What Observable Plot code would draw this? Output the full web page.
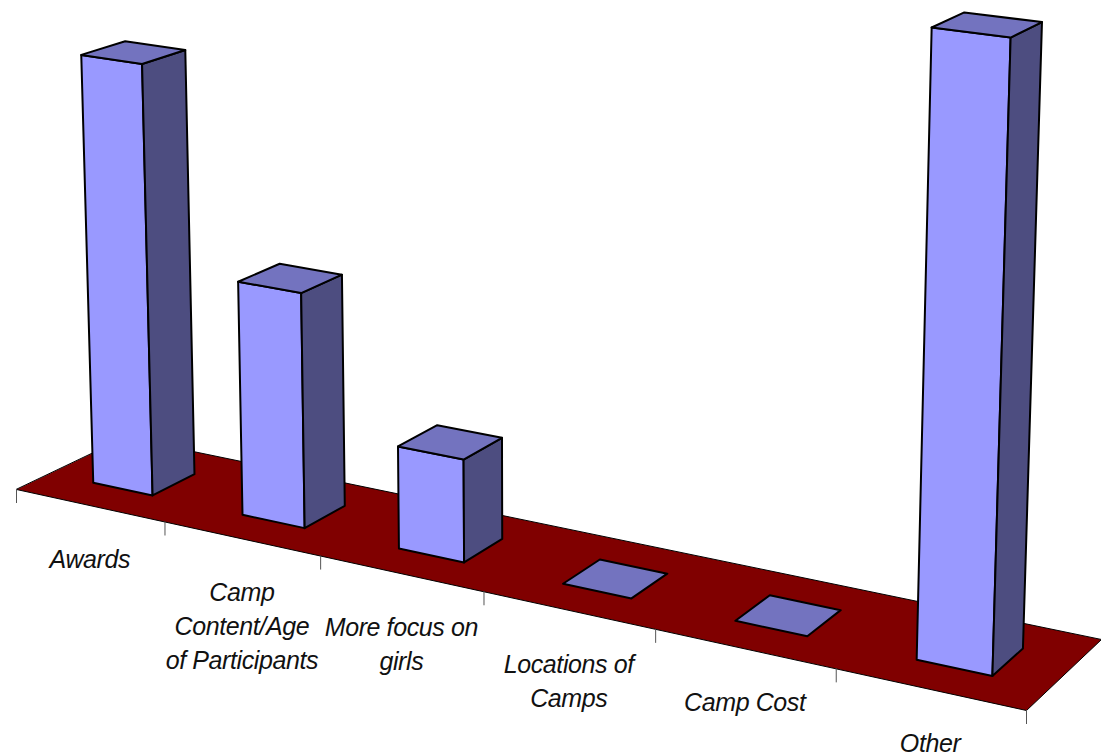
<!DOCTYPE html>
<html><head><meta charset="utf-8">
<style>html,body{margin:0;padding:0;background:#fff;overflow:hidden}svg{display:block}svg text{letter-spacing:-0.4px}</style>
<script src="https://cdn.jsdelivr.net/npm/d3@7"></script>
<script src="https://cdn.jsdelivr.net/npm/@observablehq/plot@0.6"></script>
</head><body><div id="chart"></div>
<script>
const categories = ["Awards","Camp\nContent/Age\nof Participants","More focus on\ngirls","Locations of\nCamps","Camp Cost","Other"];
const values = [17.6, 9.5, 4.1, 0, 0, 23];

// Projection of the chart's floor (category position, depth) and height onto the picture.
const W = 1101, H = 755;
const floorQuad = [[16,489],[1026,710],[1101,639],[125,437]];
const vertical = [541,16478];
const barU = [0.297,0.70], barD = [0.30,0.695];
const calib = {v:23, y:27};

const [[x0,y0],[x1,y1],[x2,y2],[x3,y3]] = floorQuad;
const dx1=x1-x2,dx2=x3-x2,sx=x0-x1+x2-x3,dy1=y1-y2,dy2=y3-y2,sy=y0-y1+y2-y3;
const den=dx1*dy2-dx2*dy1;
const g=(sx*dy2-dx2*sy)/den,h=(dx1*sy-sx*dy1)/den;
const a=x1-x0+g*x1,b=x3-x0+h*x3,c=x0,d=y1-y0+g*y1,e=y3-y0+h*y3,f=y0;
const n = categories.length;
const homog=(u,dep)=>{const s=u/n;return [a*s+b*dep+c,d*s+e*dep+f,g*s+h*dep+1];};
// height unit, calibrated on the tallest bar
const [cx,cy,cw]=homog(n-1+barU[0],barD[0]);
const k=(cy-calib.y*cw)/(calib.v*(calib.y-vertical[1]));
const proj=(u,dep,v=0)=>{const [X,Y,w]=homog(u,dep);const t=v*k;return [(X+t*vertical[0])/(w+t),(Y+t*vertical[1])/(w+t)];};

const poly=(key,pts)=>pts.map(p=>{const [x,y]=proj(...p);return {key,x,y};});
const faces={front:[],side:[],top:[]};
values.forEach((v,i)=>{
  const [ua,ub]=[i+barU[0],i+barU[1]],[da,db]=barD;
  faces.top.push(...poly(i,[[ua,da,v],[ub,da,v],[ub,db,v],[ua,db,v]]));
  if(v>0){
    faces.front.push(...poly(i,[[ua,da,0],[ub,da,0],[ub,da,v],[ua,da,v]]));
    faces.side.push(...poly(i,[[ub,da,0],[ub,db,0],[ub,db,v],[ub,da,v]]));
  }
});
const floor=poly("floor",[[0,0],[n,0],[n,1],[0,1]]);
const ticks=d3.range(n+1).map(i=>{const [x,y]=proj(i,0);return {x,y};});
const labels=categories.map((t,i)=>{const [x,y]=proj(i+.5,0);return {t,x,y};});

const faceMark=(data,fill)=>Plot.line(data,{x:"x",y:"y",z:"key",curve:"linear-closed",fill,stroke:"#000",strokeWidth:2,strokeLinejoin:"round"});
const chart=Plot.plot({
  width:W,height:H,margin:0,
  x:{domain:[0,W],range:[0,W],axis:null},
  y:{domain:[0,H],range:[0,H],axis:null},
  style:{background:"#fff"},
  marks:[
    Plot.line(floor,{x:"x",y:"y",z:"key",curve:"linear-closed",fill:"#800000",stroke:"#000",strokeWidth:1}),
    Plot.ruleX(ticks,{x:"x",y1:"y",y2:d=>d.y+14,stroke:"#555",strokeWidth:1}),
    faceMark(faces.front,"#9999FF"),
    faceMark(faces.side,"#4D4D80"),
    faceMark(faces.top,"#7373BF"),
    Plot.text(labels,{x:"x",y:"y",text:"t",textAnchor:"middle",lineAnchor:"top",dy:38.5,fontFamily:"Liberation Sans",fontStyle:"italic",fontSize:25,lineHeight:1.35,fill:"#111"})
  ]
});
document.getElementById("chart").append(chart);
</script></body></html>
